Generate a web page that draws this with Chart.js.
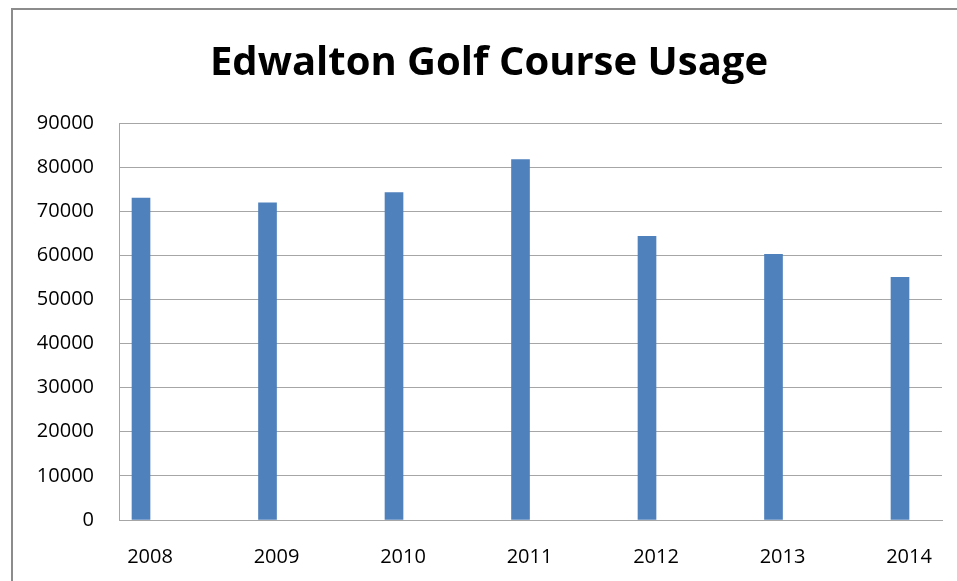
<!DOCTYPE html>
<html>
<head>
<meta charset="utf-8">
<script src="https://cdn.jsdelivr.net/npm/chart.js@4/dist/chart.umd.min.js"></script>
<style>
  html, body { margin: 0; padding: 0; background: #fff; overflow: hidden; }
  #frame { position: absolute; left: 11px; top: 8px; width: 1000px; height: 700px; border: 2px solid #8c8c8c; }
  #wrap { position: absolute; left: 0; top: 0; width: 957px; height: 581px; }
</style>
</head>
<body>
<div id="frame"></div>
<div id="wrap"><canvas id="usageChart" width="957" height="581"></canvas></div>
<script>
const years = [2008, 2009, 2010, 2011, 2012, 2013, 2014];
const usage = [73000, 71900, 74200, 81700, 64300, 60200, 55000];
const yTicks = [0, 10000, 20000, 30000, 40000, 50000, 60000, 70000, 80000, 90000];

const gridColor = '#a6a6a6';
const tickFont = { family: 'Open Sans', size: 20 };

const ctxUsage = document.getElementById('usageChart').getContext('2d');
const usageChart = new Chart(ctxUsage, {
  type: 'bar',
  data: {
    datasets: [
      {
        label: 'Usage',
        data: years.map((y, i) => ({ x: y, y: usage[i] })),
        backgroundColor: '#4f81bd',
        borderWidth: 0,
        barThickness: 18
      }
    ]
  },
  options: {
    responsive: false,
    animation: false,
    // left padding shifts the title centre to match the original
    layout: { padding: { left: 36, right: 15, top: 0, bottom: 0 } },
    scales: {
      x: {
        type: 'linear',
        offset: false,
        min: years[0] - 0.174,
        max: years[0] + 6.332,
        afterBuildTicks: (axis) => { axis.ticks = years.map(v => ({ value: v })); },
        afterFit: (axis) => { axis.height = 61; },
        grid: { display: false },
        border: { display: true, color: gridColor, width: 1 },
        ticks: {
          color: '#000',
          font: tickFont,
          padding: 17,
          labelOffset: 9,
          maxRotation: 0,
          autoSkip: false,
          callback: (v) => String(v)
        }
      },
      y: {
        min: 0,
        max: 90000,
        afterBuildTicks: (axis) => { axis.ticks = yTicks.map(v => ({ value: v })); },
        afterFit: (axis) => { axis.width = 83; },
        grid: { color: gridColor, lineWidth: 1, drawTicks: false },
        border: { display: true, color: gridColor, width: 1 },
        ticks: {
          color: '#000',
          font: tickFont,
          padding: 25,
          callback: (v) => String(v)
        }
      }
    },
    plugins: {
      legend: { display: false },
      tooltip: { enabled: false },
      title: {
        display: true,
        text: 'Edwalton Golf Course Usage',
        color: '#000',
        font: { family: 'Open Sans', size: 40, weight: 'bold', lineHeight: 1.2 },
        padding: { top: 40, bottom: 35 }
      }
    }
  }
});
</script>
</body>
</html>
